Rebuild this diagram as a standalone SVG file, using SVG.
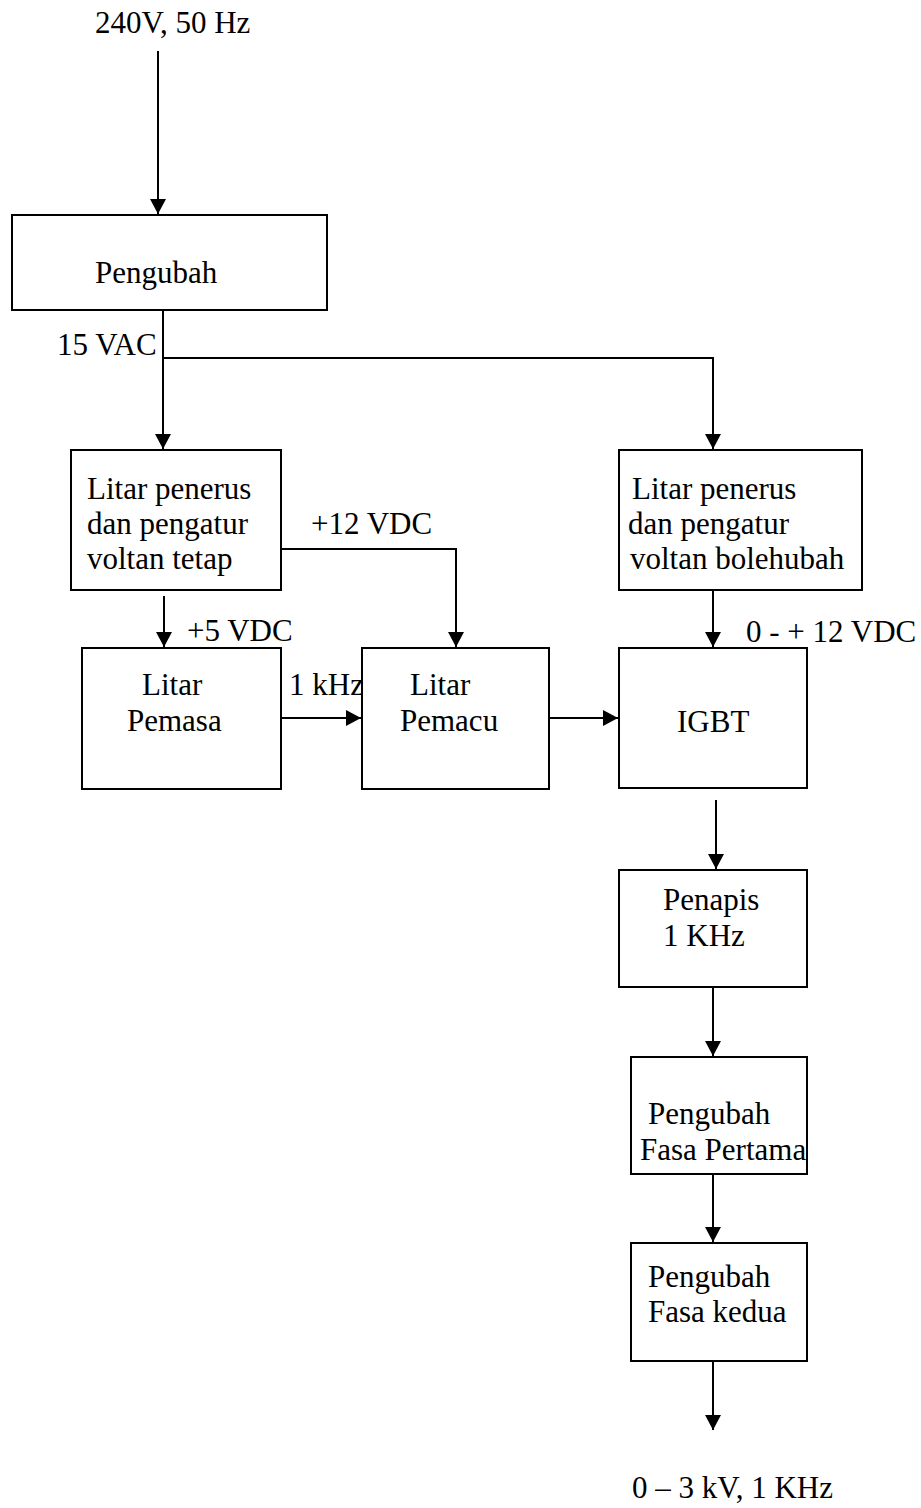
<svg xmlns="http://www.w3.org/2000/svg" width="921" height="1508" viewBox="0 0 921 1508">
<style>
text{font-family:"Liberation Serif","Times New Roman",serif;font-size:31px;fill:#000}
.box{fill:#fff;stroke:#000;stroke-width:2}
.wire{fill:none;stroke:#000;stroke-width:2}
</style>
<defs>
<marker id="ah" markerUnits="userSpaceOnUse" markerWidth="17" markerHeight="17" refX="15" refY="8" orient="auto">
<path d="M0,0 L15,8 L0,16 Z" fill="#000"/>
</marker>
</defs>
<rect width="921" height="1508" fill="#fff"/>
<g id="connectors">
<path class="wire" d="M158,51 V214" marker-end="url(#ah)"/>
<path class="wire" d="M163,310 V449" marker-end="url(#ah)"/>
<path class="wire" d="M163,358 H713 V449" marker-end="url(#ah)"/>
<path class="wire" d="M281,549 H456 V647" marker-end="url(#ah)"/>
<path class="wire" d="M164,596 V647" marker-end="url(#ah)"/>
<path class="wire" d="M281,718 H361" marker-end="url(#ah)"/>
<path class="wire" d="M549,718 H618" marker-end="url(#ah)"/>
<path class="wire" d="M713,590 V647" marker-end="url(#ah)"/>
<path class="wire" d="M716,800 V869" marker-end="url(#ah)"/>
<path class="wire" d="M713,987 V1056" marker-end="url(#ah)"/>
<path class="wire" d="M713,1174 V1242" marker-end="url(#ah)"/>
<path class="wire" d="M713,1361 V1430" marker-end="url(#ah)"/>
</g>
<g id="labels">
<text x="95" y="33">240V, 50 Hz</text>
<text x="57" y="355">15 VAC</text>
<text x="311" y="534">+12 VDC</text>
<text x="187" y="641">+5 VDC</text>
<text x="289" y="695">1 kHz</text>
<text x="746" y="642">0 - + 12 VDC</text>
<text x="632" y="1498">0 – 3 kV, 1 KHz</text>
</g>
<g id="pengubah">
<rect class="box" x="12" y="215" width="315" height="95"/>
<text x="95" y="283">Pengubah</text>
</g>
<g id="litar-tetap">
<rect class="box" x="71" y="450" width="210" height="140"/>
<text x="87" y="499">Litar penerus</text>
<text x="87" y="534">dan pengatur</text>
<text x="87" y="569">voltan tetap</text>
</g>
<g id="litar-bolehubah">
<rect class="box" x="619" y="450" width="243" height="140"/>
<text x="632" y="499">Litar penerus</text>
<text x="628" y="534">dan pengatur</text>
<text x="630" y="569">voltan bolehubah</text>
</g>
<g id="pemasa">
<rect class="box" x="82" y="648" width="199" height="141"/>
<text x="142" y="695">Litar</text>
<text x="127" y="731">Pemasa</text>
</g>
<g id="pemacu">
<rect class="box" x="362" y="648" width="187" height="141"/>
<text x="410" y="695">Litar</text>
<text x="400" y="731">Pemacu</text>
</g>
<g id="igbt">
<rect class="box" x="619" y="648" width="188" height="140"/>
<text x="677" y="732">IGBT</text>
</g>
<g id="penapis">
<rect class="box" x="619" y="870" width="188" height="117"/>
<text x="663" y="910">Penapis</text>
<text x="663" y="946">1 KHz</text>
</g>
<g id="fasa-pertama">
<rect class="box" x="631" y="1057" width="176" height="117"/>
<text x="648" y="1124">Pengubah</text>
<text x="640" y="1160">Fasa Pertama</text>
</g>
<g id="fasa-kedua">
<rect class="box" x="631" y="1243" width="176" height="118"/>
<text x="648" y="1287">Pengubah</text>
<text x="648" y="1322">Fasa kedua</text>
</g>
</svg>
